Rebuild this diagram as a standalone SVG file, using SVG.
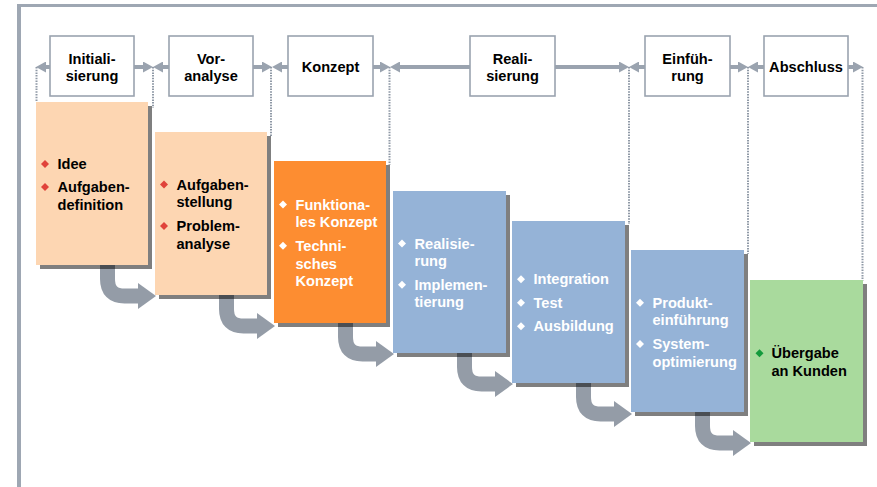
<svg xmlns="http://www.w3.org/2000/svg" width="877" height="487" viewBox="0 0 877 487">
<style>
.frame{stroke:#9ea7b3;fill:none}
.hbox{fill:#fff;stroke:#9aa3af;stroke-width:1.6}
.ht{font-family:"Liberation Sans",Arial,sans-serif;font-weight:bold;font-size:14.6px;fill:#000;text-anchor:middle}
.bt{font-family:"Liberation Sans",Arial,sans-serif;font-weight:bold;font-size:14.6px}
.dk{fill:#000}
.wh{fill:#fff}
.shadow{fill:#000;opacity:0.5}
.hl{stroke:#9aa3af;stroke-width:4;fill:none}
.dot{stroke:#8f99a6;stroke-width:2;stroke-dasharray:1.5 1.2;fill:none}
.cshaft{stroke:#949ca7;stroke-width:15;fill:none}
.chead{fill:#949ca7}
.peach{fill:#fdd6b2}
.orange{fill:#fd8d31}
.blue{fill:#95b3d7}
.green{fill:#a9da9d}
</style>
<defs>
<marker id="ah" viewBox="0 0 10 11" refX="0" refY="5.5" markerWidth="10" markerHeight="11" markerUnits="userSpaceOnUse" orient="auto">
<path d="M0,0 L10,5.5 L0,11 z" fill="#9aa3af"/>
</marker>
<path id="dm" d="M0,-4 L4,0 L0,4 L-4,0 z"/>
</defs>
<rect width="877" height="487" fill="#fff"/>
<g id="frame">
<line class="frame" x1="17" y1="5.5" x2="877" y2="5.5" stroke-width="3"/>
<line class="frame" x1="19" y1="4" x2="19" y2="487" stroke-width="4"/>
</g>
<g id="connectors">
<line class="hl" x1="50" y1="67" x2="46" y2="67" marker-end="url(#ah)"/>
<line class="hl" x1="134" y1="67" x2="143" y2="67" marker-end="url(#ah)"/>
<line class="hl" x1="169" y1="67" x2="163" y2="67" marker-end="url(#ah)"/>
<line class="hl" x1="253" y1="67" x2="262" y2="67" marker-end="url(#ah)"/>
<line class="hl" x1="288" y1="67" x2="282" y2="67" marker-end="url(#ah)"/>
<line class="hl" x1="373" y1="67" x2="380" y2="67" marker-end="url(#ah)"/>
<line class="hl" x1="470" y1="67" x2="400" y2="67" marker-end="url(#ah)"/>
<line class="hl" x1="555" y1="67" x2="619" y2="67" marker-end="url(#ah)"/>
<line class="hl" x1="645" y1="67" x2="639" y2="67" marker-end="url(#ah)"/>
<line class="hl" x1="730" y1="67" x2="738" y2="67" marker-end="url(#ah)"/>
<line class="hl" x1="764" y1="67" x2="758" y2="67" marker-end="url(#ah)"/>
<line class="hl" x1="848" y1="67" x2="853" y2="67" marker-end="url(#ah)"/>
<line class="dot" x1="36.5" y1="67" x2="36.5" y2="102"/>
<line class="dot" x1="153" y1="67" x2="153" y2="108"/>
<line class="dot" x1="271" y1="67" x2="271" y2="137"/>
<line class="dot" x1="389.5" y1="67" x2="389.5" y2="165"/>
<line class="dot" x1="629" y1="67" x2="629" y2="224"/>
<line class="dot" x1="748" y1="67" x2="748" y2="254"/>
<line class="dot" x1="862.5" y1="67" x2="862.5" y2="281"/>
<g id="curved-arrows">
<path class="cshaft" d="M107.5,265 L107.5,279 Q107.5,296 124.5,296 L139,296"/>
<polygon class="chead" points="138,283 156,296 138,309"/>
<path class="cshaft" d="M226.5,295 L226.5,309 Q226.5,326 243.5,326 L258,326"/>
<polygon class="chead" points="257,313 275,326 257,339"/>
<path class="cshaft" d="M345.5,323 L345.5,337 Q345.5,354 362.5,354 L377,354"/>
<polygon class="chead" points="376,341 394,354 376,367"/>
<path class="cshaft" d="M464.5,353 L464.5,367 Q464.5,384 481.5,384 L496,384"/>
<polygon class="chead" points="495,371 513,384 495,397"/>
<path class="cshaft" d="M583.5,383 L583.5,397 Q583.5,414 600.5,414 L615,414"/>
<polygon class="chead" points="614,401 632,414 614,427"/>
<path class="cshaft" d="M702.5,412 L702.5,426 Q702.5,443 719.5,443 L734,443"/>
<polygon class="chead" points="733,430 751,443 733,456"/>
</g>
</g>
<g id="h-initialisierung">
<rect class="hbox" x="50" y="36" width="84" height="60"/>
<text class="ht" x="92" y="63.5">Initiali-</text>
<text class="ht" x="92" y="80.5">sierung</text>
</g>
<g id="h-voranalyse">
<rect class="hbox" x="169" y="36" width="84" height="60"/>
<text class="ht" x="211" y="63.5">Vor-</text>
<text class="ht" x="211" y="80.5">analyse</text>
</g>
<g id="h-konzept">
<rect class="hbox" x="288" y="36" width="85" height="60"/>
<text class="ht" x="330.5" y="72">Konzept</text>
</g>
<g id="h-realisierung">
<rect class="hbox" x="470" y="36" width="85" height="60"/>
<text class="ht" x="512.5" y="63.5">Reali-</text>
<text class="ht" x="512.5" y="80.5">sierung</text>
</g>
<g id="h-einfuehrung">
<rect class="hbox" x="645" y="36" width="85" height="60"/>
<text class="ht" x="687.5" y="63.5">Einfüh-</text>
<text class="ht" x="687.5" y="80.5">rung</text>
</g>
<g id="h-abschluss">
<rect class="hbox" x="764" y="36" width="84" height="60"/>
<text class="ht" x="806" y="72">Abschluss</text>
</g>
<g id="b-idee">
<rect class="shadow" x="40" y="106" width="112" height="163"/>
<rect class="peach" x="36" y="102" width="112" height="163"/>
<use href="#dm" x="45" y="164" fill="#e0433a"/>
<use href="#dm" x="45" y="187" fill="#e0433a"/>
<text class="bt dk" x="57.5" y="169">Idee</text>
<text class="bt dk" x="57.5" y="192">Aufgaben-</text>
<text class="bt dk" x="57.5" y="210">definition</text>
</g>
<g id="b-aufgabenstellung">
<rect class="shadow" x="159" y="136" width="112" height="163"/>
<rect class="peach" x="155" y="132" width="112" height="163"/>
<use href="#dm" x="164" y="184.5" fill="#e0433a"/>
<use href="#dm" x="164" y="226" fill="#e0433a"/>
<text class="bt dk" x="176.5" y="189.5">Aufgaben-</text>
<text class="bt dk" x="176.5" y="207">stellung</text>
<text class="bt dk" x="176.5" y="231">Problem-</text>
<text class="bt dk" x="176.5" y="248.5">analyse</text>
</g>
<g id="b-konzept">
<rect class="shadow" x="278" y="165" width="112" height="162"/>
<rect class="orange" x="274" y="161" width="112" height="162"/>
<use href="#dm" x="283" y="204.5" fill="#fff"/>
<use href="#dm" x="283" y="245.8" fill="#fff"/>
<text class="bt wh" x="295.5" y="209.5">Funktiona-</text>
<text class="bt wh" x="295.5" y="227.3">les Konzept</text>
<text class="bt wh" x="295.5" y="250.8">Techni-</text>
<text class="bt wh" x="295.5" y="268.5">sches</text>
<text class="bt wh" x="295.5" y="286.3">Konzept</text>
</g>
<g id="b-realisierung">
<rect class="shadow" x="397" y="195" width="113" height="162"/>
<rect class="blue" x="393" y="191" width="113" height="162"/>
<use href="#dm" x="402" y="243.5" fill="#fff"/>
<use href="#dm" x="402" y="284.7" fill="#fff"/>
<text class="bt wh" x="414.5" y="248.5">Realisie-</text>
<text class="bt wh" x="414.5" y="266.2">rung</text>
<text class="bt wh" x="414.5" y="289.7">Implemen-</text>
<text class="bt wh" x="414.5" y="307.4">tierung</text>
</g>
<g id="b-integration">
<rect class="shadow" x="516" y="225" width="113" height="162"/>
<rect class="blue" x="512" y="221" width="113" height="162"/>
<use href="#dm" x="521" y="279.3" fill="#fff"/>
<use href="#dm" x="521" y="302.8" fill="#fff"/>
<use href="#dm" x="521" y="326.3" fill="#fff"/>
<text class="bt wh" x="533.5" y="284.3">Integration</text>
<text class="bt wh" x="533.5" y="307.8">Test</text>
<text class="bt wh" x="533.5" y="331.3">Ausbildung</text>
</g>
<g id="b-produkteinfuehrung">
<rect class="shadow" x="635" y="254" width="113" height="162"/>
<rect class="blue" x="631" y="250" width="113" height="162"/>
<use href="#dm" x="640" y="302.7" fill="#fff"/>
<use href="#dm" x="640" y="343.9" fill="#fff"/>
<text class="bt wh" x="652.5" y="307.7">Produkt-</text>
<text class="bt wh" x="652.5" y="325.4">einführung</text>
<text class="bt wh" x="652.5" y="348.9">System-</text>
<text class="bt wh" x="652.5" y="366.6">optimierung</text>
</g>
<g id="b-uebergabe">
<rect class="shadow" x="754" y="284" width="113" height="162"/>
<rect class="green" x="750" y="280" width="113" height="162"/>
<use href="#dm" x="759.5" y="353.3" fill="#149a3c"/>
<text class="bt dk" x="771.5" y="358.3">Übergabe</text>
<text class="bt dk" x="771.5" y="376">an Kunden</text>
</g>
</svg>
